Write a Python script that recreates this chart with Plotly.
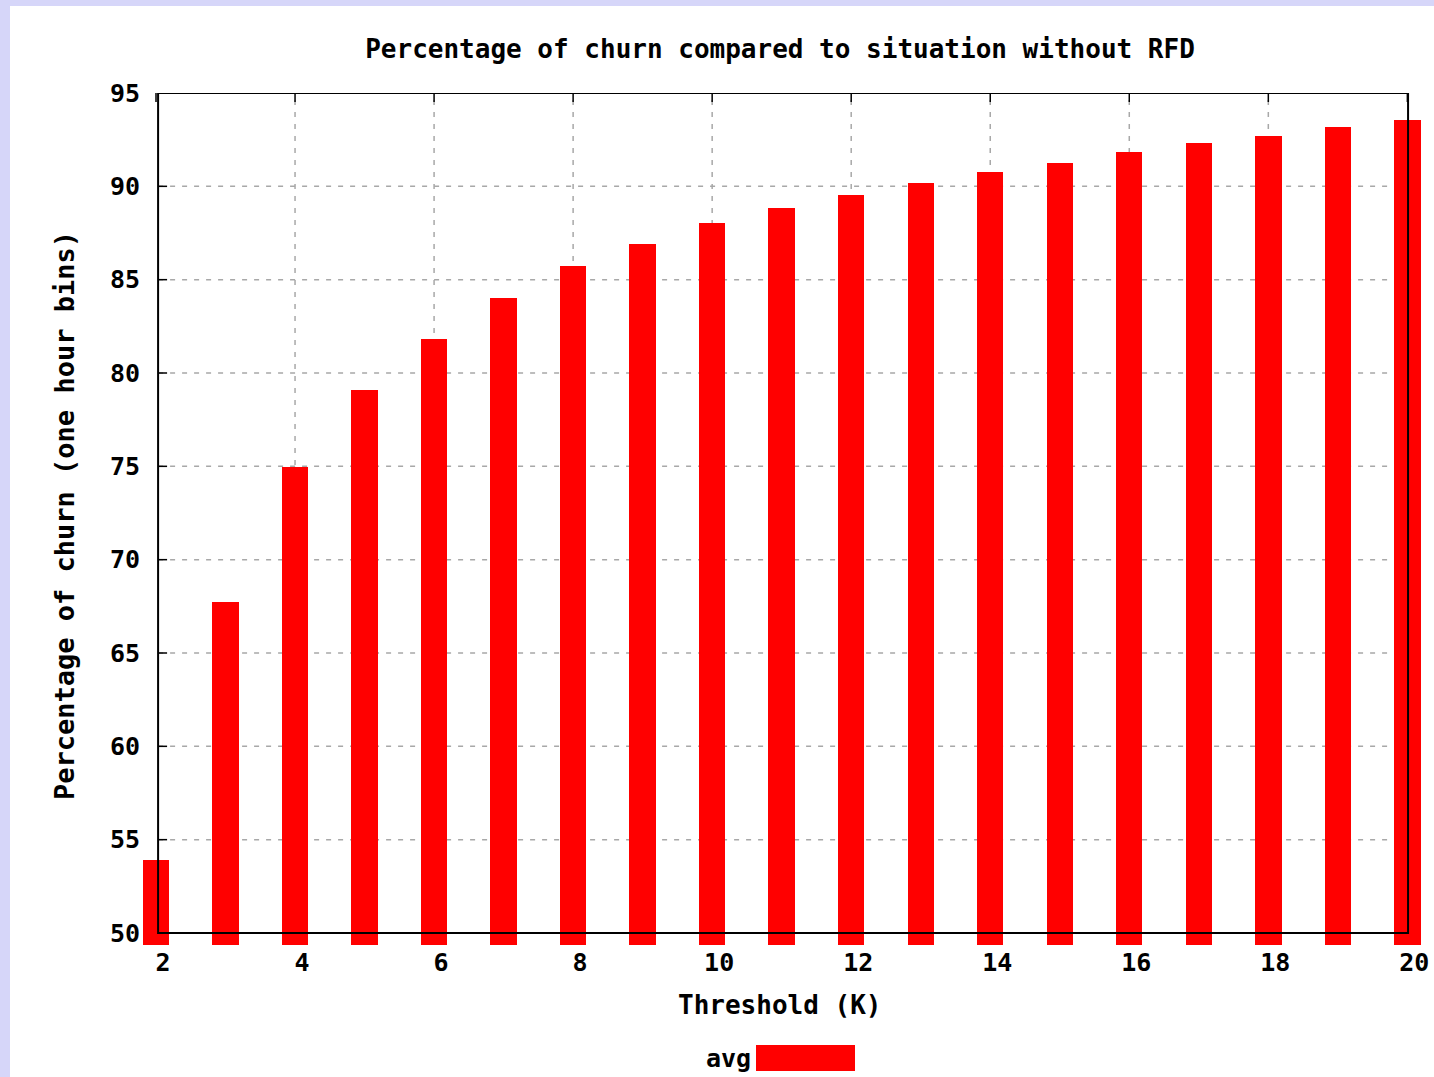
import plotly.graph_objects as go

# ---- data ----
thresholds = [2, 3, 4, 5, 6, 7, 8, 9, 10, 11, 12, 13, 14, 15, 16, 17, 18, 19, 20]
avg_churn = [53.91, 67.75, 74.96, 79.07, 81.84, 84.00, 85.71, 86.89, 88.02, 88.82,
             89.55, 90.16, 90.75, 91.23, 91.82, 92.30, 92.70, 93.16, 93.54]
x_ticks = [2, 4, 6, 8, 10, 12, 14, 16, 18, 20]
y_ticks = [50, 55, 60, 65, 70, 75, 80, 85, 90, 95]
title_text = "Percentage of churn compared to situation without RFD"
x_title = "Threshold (K)"
y_title = "Percentage of churn (one hour bins)"
series_name = "avg"

# ---- layout geometry ----
W, H = 1434, 1077
ML, MR, MT, MB = 135, 6, 93, 132
PW, PH = W - ML - MR, H - MT - MB
px_per_x = 69.52
x_lo = 2 - (156 - ML) / px_per_x
x_hi = x_lo + PW / px_per_x
y_lo, y_hi = 49.357, 95
fx0, fx1 = 2.03, 20.01          # frame edges (data units)
fy0, fy1 = y_ticks[0], y_ticks[-1]
px_per_y = PH / (y_hi - y_lo)
tick_len = 9

def px2paper_x(px):
    return (px - ML) / PW

def px2paper_y(py):
    return (H - MB - py) / PH

FONT = "DejaVu Sans Mono"
RED = "#ff0000"
GRID = "#a8a8a8"

fig = go.Figure()
fig.add_trace(go.Bar(
    x=thresholds, y=avg_churn, name=series_name, width=0.38,
    marker=dict(color=RED, line=dict(width=0)), showlegend=False,
))

shapes = []
# white canvas over lavender background
shapes.append(dict(type="rect", xref="paper", yref="paper",
                   x0=px2paper_x(10), x1=px2paper_x(W + 20),
                   y0=px2paper_y(H + 20), y1=px2paper_y(6),
                   fillcolor="white", line=dict(width=0), layer="below"))
# grid lines
for yv in y_ticks[1:-1]:
    shapes.append(dict(type="line", xref="x", yref="y", x0=fx0, x1=fx1, y0=yv, y1=yv,
                       line=dict(color=GRID, width=1.5, dash="5px,7px"), layer="below"))
for xv in x_ticks[1:-1]:
    shapes.append(dict(type="line", xref="x", yref="y", x0=xv, x1=xv, y0=fy0, y1=fy1,
                       line=dict(color=GRID, width=1.5, dash="5px,7px"), layer="below"))
# inward tick marks
dy = tick_len / px_per_y
dx = tick_len / px_per_x
for xv in x_ticks:
    for (a, b) in [(fy0, fy0 + dy), (fy1, fy1 - dy)]:
        shapes.append(dict(type="line", xref="x", yref="y", x0=xv, x1=xv, y0=a, y1=b,
                           line=dict(color="black", width=1.5), layer="below"))
for yv in y_ticks:
    for (a, b) in [(fx0, fx0 + dx), (fx1, fx1 - dx)]:
        shapes.append(dict(type="line", xref="x", yref="y", x0=a, x1=b, y0=yv, y1=yv,
                           line=dict(color="black", width=1.5), layer="below"))
# frame
shapes.append(dict(type="rect", xref="x", yref="y", x0=fx0, x1=fx1, y0=fy0, y1=fy1,
                   line=dict(color="black", width=2), fillcolor="rgba(0,0,0,0)", layer="above"))
# legend swatch
shapes.append(dict(type="rect", xref="paper", yref="paper",
                   x0=px2paper_x(756), x1=px2paper_x(855),
                   y0=px2paper_y(1071), y1=px2paper_y(1045),
                   fillcolor=RED, line=dict(width=0), layer="above"))

font = dict(family=FONT, size=25, color="black", weight="bold")
title_font = dict(family=FONT, size=26, color="black", weight="bold")
ytitle_font = dict(family=FONT, size=27, color="black", weight="bold")

annotations = [
    dict(text=x_title, xref="paper", yref="paper", x=px2paper_x(780), y=px2paper_y(1005),
         xanchor="center", yanchor="middle", showarrow=False, font=title_font),
    dict(text=y_title, xref="paper", yref="paper", x=px2paper_x(64), y=px2paper_y(516),
         xanchor="center", yanchor="middle", showarrow=False, textangle=-90, font=ytitle_font),
    dict(text=series_name, xref="paper", yref="paper", x=px2paper_x(753), y=px2paper_y(1058),
         xanchor="right", yanchor="middle", showarrow=False, font=font),
]

fig.update_layout(
    width=W, height=H,
    margin=dict(l=ML, r=MR, t=MT, b=MB, pad=0),
    paper_bgcolor="#d6d6f9", plot_bgcolor="white",
    title=dict(text=title_text, x=780 / W, y=1 - 49 / H, xref="container", yref="container",
               xanchor="center", yanchor="middle", font=title_font),
    xaxis=dict(range=[x_lo, x_hi], tickvals=x_ticks, ticktext=[str(v) for v in x_ticks],
               showgrid=False, zeroline=False, showline=False, ticks="",
               tickfont=font, ticklabelshift=7, ticklabelstandoff=0, fixedrange=True),
    yaxis=dict(range=[y_lo, y_hi], tickvals=y_ticks, ticktext=[str(v) for v in y_ticks],
               showgrid=False, zeroline=False, showline=False, ticks="",
               tickfont=font, ticklabelstandoff=-6, fixedrange=True),
    shapes=shapes, annotations=annotations, bargap=0,
)

fig.write_html("out.html", config={"displayModeBar": False},
               post_script="document.body.style.margin='0';document.body.style.padding='0';"
                           "document.body.style.overflow='hidden';")
